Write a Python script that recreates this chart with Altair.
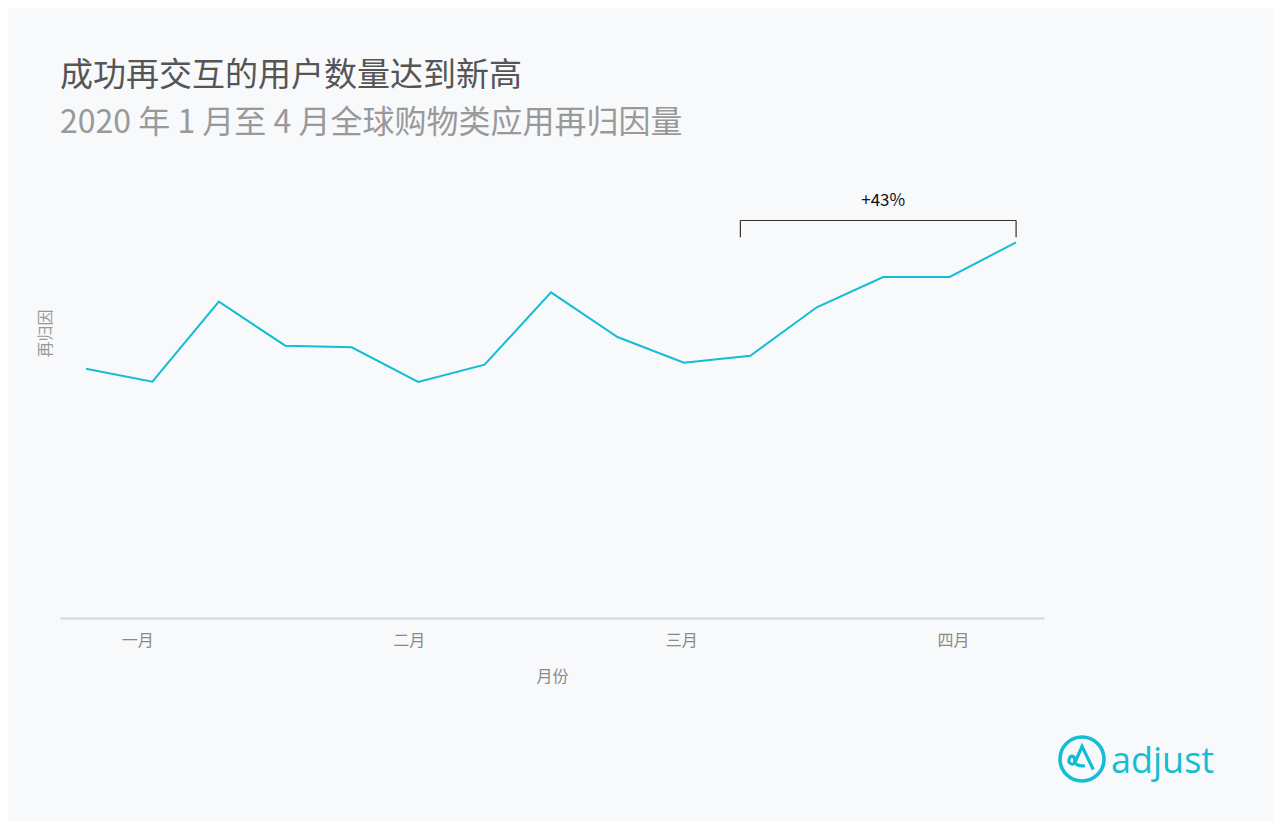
import json
import altair as alt
import pandas as pd

# ---- data ----
week_index = list(range(15))
reattributions = [249.3, 236.3, 316.3, 272.3, 270.7, 236.0, 253.3, 325.7,
                  281.0, 255.3, 262.3, 310.7, 341.0, 341.0, 375.7]
month_labels = ["一月", "二月", "三月", "四月"]
month_ticks = [0.77, 4.86, 8.96, 13.05]

bracket_start, bracket_end = 9.85, 14.0
bracket_top, bracket_bottom = 397.5, 380.7
annotation_text = "+43%"
annotation_x, annotation_y = 12.0, 417.0

title_text = "成功再交互的用户数量达到新高"
subtitle_text = "2020 年 1 月至 4 月全球购物类应用再归因量"
x_title = "月份"
y_title = "再归因"
logo_text = "adjust"

FONT = "Noto Sans CJK SC"
CYAN = "#12BDD5"

df = pd.DataFrame({"week": week_index, "value": reattributions})

x_scale = alt.Scale(domain=[-0.391, 14.42], nice=False, zero=False)
y_scale = alt.Scale(domain=[0, 438], nice=False)

label_expr = f"{json.dumps(month_labels, ensure_ascii=False)}[indexof({json.dumps(month_ticks)}, datum.value)]"

line = alt.Chart(df).mark_line(color=CYAN, strokeWidth=2).encode(
    x=alt.X("week:Q", scale=x_scale,
            axis=alt.Axis(values=month_ticks, labelExpr=label_expr, title=x_title,
                          ticks=False, grid=False, domainColor="#D3D5D8", domainWidth=2,
                          labelColor="#8A8A8A", labelFontSize=16, labelFont=FONT,
                          labelPadding=14, titleFont=FONT, titleFontSize=16,
                          titleColor="#8A8A8A", titleFontWeight="normal",
                          titleY=58, titleBaseline="middle")),
    y=alt.Y("value:Q", scale=y_scale,
            axis=alt.Axis(labels=False, ticks=False, domain=False, grid=False,
                          title=y_title, titleFont=FONT, titleFontSize=16,
                          titleColor="#999999", titleFontWeight="normal",
                          titleX=-15, titleY=153, titleAngle=-90,
                          titleAlign="center", titleBaseline="middle")),
)

bracket_df = pd.DataFrame({
    "x": [bracket_start, bracket_start, bracket_end],
    "x2": [bracket_end, bracket_start, bracket_end],
    "y": [bracket_top, bracket_top, bracket_top],
    "y2": [bracket_top, bracket_bottom, bracket_bottom],
})
bracket = alt.Chart(bracket_df).mark_rule(color="#333333", strokeWidth=1.2).encode(
    x=alt.X("x:Q", scale=x_scale), x2="x2:Q",
    y=alt.Y("y:Q", scale=y_scale), y2="y2:Q",
)

ann_df = pd.DataFrame({"x": [annotation_x], "y": [annotation_y], "t": [annotation_text]})
annotation = alt.Chart(ann_df).mark_text(
    font=FONT, fontSize=17, color="#111111", baseline="middle", align="center"
).encode(x=alt.X("x:Q", scale=x_scale), y=alt.Y("y:Q", scale=y_scale), text="t:N")

logo_df = pd.DataFrame({"t": [logo_text]})
logo_ring = alt.Chart(logo_df).mark_point(
    shape="circle", size=1936, filled=False, color=CYAN, strokeWidth=3.6, opacity=1
).encode(x=alt.value(1022), y=alt.value(579))
logo_glyph = alt.Chart(logo_df).mark_point(
    shape=("M 0.75 0.7 L 0 -0.85 L -0.45 0.2 C -0.55 0.45 -0.95 0.35 -0.85 0 "
           "C -0.75 -0.3 -0.45 -0.2 -0.5 0.1 C -0.55 0.35 -0.2 0.5 0.2 0.45"),
    size=900, filled=False, color=CYAN, strokeWidth=3.2, opacity=1
).encode(x=alt.value(1022), y=alt.value(579))
logo_word = alt.Chart(logo_df).mark_text(
    font="Open Sans", fontSize=36, color=CYAN, align="left", baseline="alphabetic"
).encode(x=alt.value(1051), y=alt.value(593), text="t:N")

chart = alt.layer(line, bracket, annotation, logo_ring, logo_glyph, logo_word).properties(
    width=984, height=438,
    autosize=alt.AutoSizeParams(type="none"),
    padding={"left": 52, "top": 172, "right": 229, "bottom": 203},
    background="#F8F9FB",
    title=alt.TitleParams(
        text=title_text, subtitle=subtitle_text, anchor="start", frame="group",
        font=FONT, fontSize=33, fontWeight="normal", color="#555555",
        subtitleFont=FONT, subtitleFontSize=32, subtitleColor="#999999",
        subtitlePadding=15, offset=41,
    ),
).configure_view(stroke=None)

chart.save("out.html", embed_options={"renderer": "svg", "actions": False})
